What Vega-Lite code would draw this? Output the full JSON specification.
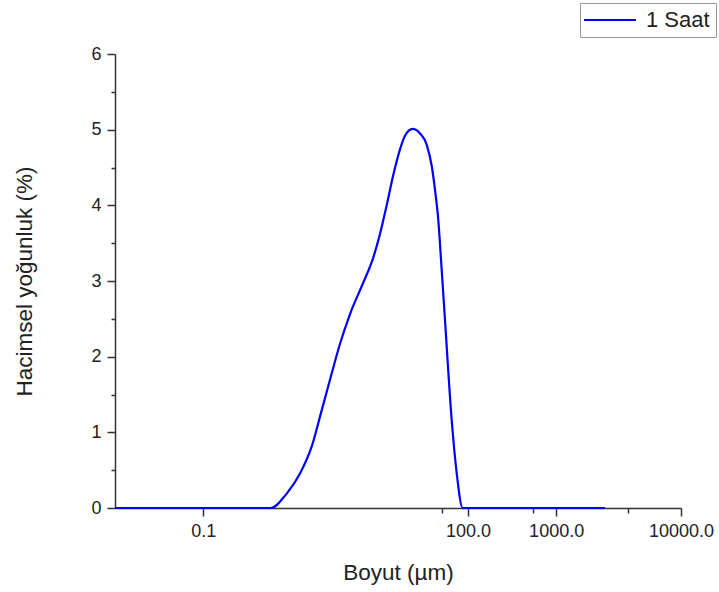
{
  "$schema": "https://vega.github.io/schema/vega-lite/v6.json",
  "width": 566,
  "height": 454,
  "autosize": {"type": "none"},
  "padding": {"left": 115, "top": 54, "right": 38, "bottom": 84},
  "background": "white",
  "config": {"view": {"stroke": null}, "font": "Liberation Sans"},
  "data": {
    "values": [
      {"size": 0.01, "density": 0},
      {"size": 0.1, "density": 0},
      {"size": 0.581, "density": 0},
      {"size": 0.882, "density": 0.19},
      {"size": 1.249, "density": 0.455},
      {"size": 1.694, "density": 0.81},
      {"size": 2.2, "density": 1.29},
      {"size": 2.86, "density": 1.78},
      {"size": 3.55, "density": 2.17},
      {"size": 4.6, "density": 2.56},
      {"size": 6.52, "density": 2.98},
      {"size": 8.46, "density": 3.31},
      {"size": 10.07, "density": 3.62},
      {"size": 12.0, "density": 4.0},
      {"size": 14.25, "density": 4.4},
      {"size": 16.98, "density": 4.74},
      {"size": 19.36, "density": 4.92},
      {"size": 23.67, "density": 5.01},
      {"size": 28.63, "density": 4.95},
      {"size": 34.12, "density": 4.8},
      {"size": 38.89, "density": 4.52},
      {"size": 42.4, "density": 4.2},
      {"size": 46.2, "density": 3.8},
      {"size": 50.4, "density": 3.15},
      {"size": 55.0, "density": 2.48},
      {"size": 65.5, "density": 1.16},
      {"size": 74.6, "density": 0.46},
      {"size": 87.3, "density": 0},
      {"size": 500, "density": 0},
      {"size": 3581, "density": 0}
    ]
  },
  "mark": {"type": "line", "interpolate": "monotone", "strokeWidth": 2.2},
  "encoding": {
    "x": {
      "field": "size",
      "type": "quantitative",
      "scale": {"type": "log", "domain": [0.01, 26000], "nice": false},
      "axis": {
        "title": "Boyut (µm)",
        "values": [0.1, 51, 100, 547, 1000, 6530, 26000],
        "labelExpr": "datum.value == 0.1 ? '0.1' : datum.value == 100 ? '100.0' : datum.value == 1000 ? '1000.0' : datum.value == 26000 ? '10000.0' : ''",
        "tickSize": {"condition": {"test": "indexof([0.1, 100, 1000, 26000], datum.value) >= 0", "value": 8}, "value": 5},
        "grid": false,
        "domainColor": "#333",
        "domainWidth": 1.5,
        "tickColor": "#333",
        "tickWidth": 1.5,
        "labelFontSize": 18,
        "labelColor": "#222",
        "labelPadding": 6,
        "labelOverlap": false,
        "labelFlush": false,
        "titleFontSize": 22.5,
        "titleFontWeight": "normal",
        "titleColor": "#222",
        "titlePadding": 21
      }
    },
    "y": {
      "field": "density",
      "type": "quantitative",
      "scale": {"domain": [0, 6], "nice": false},
      "axis": {
        "title": "Hacimsel yoğunluk (%)",
        "values": [0, 0.5, 1, 1.5, 2, 2.5, 3, 3.5, 4, 4.5, 5, 5.5, 6],
        "labelExpr": "datum.value % 1 == 0 ? format(datum.value, 'd') : ''",
        "tickSize": {"condition": {"test": "datum.value % 1 == 0", "value": 8}, "value": 4},
        "grid": false,
        "domainColor": "#333",
        "domainWidth": 1.5,
        "tickColor": "#333",
        "tickWidth": 1.5,
        "labelFontSize": 18,
        "labelColor": "#222",
        "labelPadding": 6,
        "labelOverlap": false,
        "labelFlush": false,
        "titleFontSize": 22.5,
        "titleFontWeight": "normal",
        "titleColor": "#222",
        "titlePadding": 54
      }
    },
    "color": {
      "datum": "1 Saat",
      "type": "nominal",
      "scale": {"range": ["#0000FF"]},
      "legend": {
        "title": null,
        "orient": "none",
        "legendX": 465,
        "legendY": -51,
        "strokeColor": "#999",
        "padding": 6,
        "symbolType": "M-2,0H6",
        "symbolSize": 169,
        "symbolStrokeWidth": 2,
        "labelFontSize": 22,
        "labelColor": "#222",
        "labelOffset": 38
      }
    }
  }
}
